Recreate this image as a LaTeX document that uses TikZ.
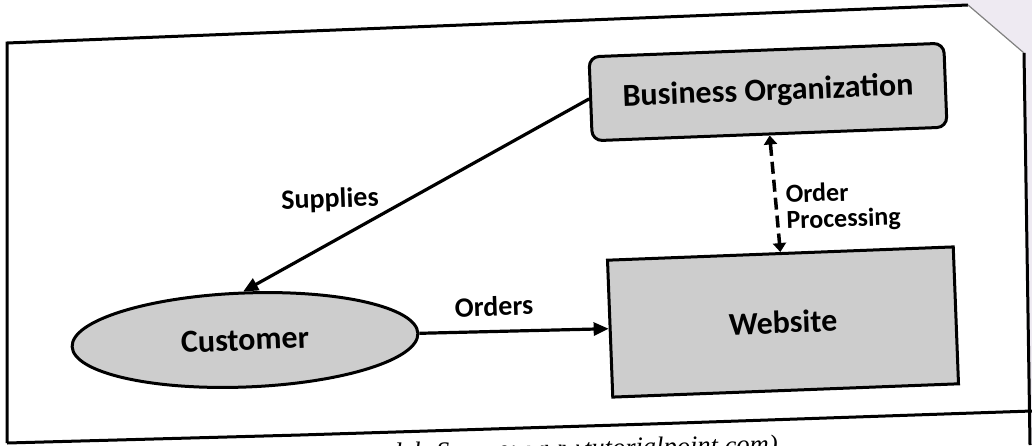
\documentclass[tikz,border=0pt]{standalone}
\usepackage{fontspec}
\setmainfont{Carlito}
\newfontfamily\capfont{Liberation Serif}
\usetikzlibrary{arrows.meta,shapes.geometric}
\definecolor{boxgray}{RGB}{205,205,205}
\definecolor{bgtint}{RGB}{238,234,242}
\begin{document}
\begin{tikzpicture}[x=1pt,y=-1pt,
  box/.style={draw=black, line width=3pt, fill=boxgray, rotate=2.2, inner sep=0pt,
    font=\bfseries\fontsize{32}{36}\selectfont},
  lbl/.style={font=\bfseries\fontsize{28}{25}\selectfont, text=black, rotate=2, inner sep=0pt},
  conn/.style={line width=3.2pt, -{Triangle[length=15pt,width=13pt]}},
  dconn/.style={line width=3.5pt, dash pattern=on 12pt off 6pt,
    {Triangle[length=9pt,width=13pt]}-{Triangle[length=9pt,width=13pt]}},
  frame/.style={line width=3pt, black},
]
\clip (0,0) rectangle (1032,445);
\fill[white] (0,0) rectangle (1032,445);
\fill[bgtint] (930,0) -- (1032,0) -- (1032,445) -- (1030,445) -- (1024,53) -- (968,5) -- cycle;
% frame of the page
\draw[frame] (7,443) -- (7,43) -- (968,5);
\draw[line width=1.2pt, gray] (968,5) -- (1024,53);
\draw[frame] (1024,53) -- (1030,445);
\draw[frame] (7,443) -- (300,435) -- (650,424) -- (1032,411);
% nodes
\node[box, rounded corners=10pt, minimum width=355pt, minimum height=84pt] (biz) at (768,92) {Business Organization};
\node[box, minimum width=346pt, minimum height=137pt] (web) at (783,322) {Website};
\node[box, ellipse, minimum width=346pt, minimum height=94pt] (cust) at (245,340) {Customer};
% connectors
\draw[conn] (biz.west) -- (cust.north);
\draw[conn] (cust.east) -- (web.west);
\draw[dconn] (biz.south) -- (web.north);
% labels
\node[lbl] (sup) at (330,200) {Supplies};
\node[lbl] (ord) at (494,306) {Orders};
\node[lbl, anchor=west, align=left, font=\bfseries\fontsize{26}{26}\selectfont] (op) at (786,209) {Order\\Processing};
% caption (cut off by the photo)
\node[anchor=base east, rotate=1.2, inner sep=0pt,
  font=\capfont\itshape\fontsize{26.5}{30}\selectfont] (cap) at (778,453)
  {del. Source: www.tutorialpoint.com)};
\end{tikzpicture}
\end{document}
